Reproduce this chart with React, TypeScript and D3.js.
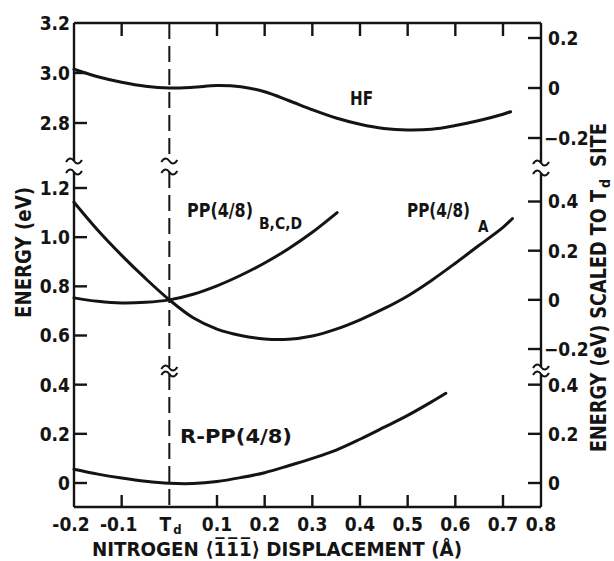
import React from 'react';
import * as d3 from 'd3';

// x axis (nitrogen displacement, Angstrom)
const xTicks = [-0.2, -0.1, 0, 0.1, 0.2, 0.3, 0.4, 0.5, 0.6, 0.7, 0.8];
const xTickLabels = ['-0.2', '-0.1', 'T', '0.1', '0.2', '0.3', '0.4', '0.5', '0.6', '0.7', '0.8'];

// left axis, upper (HF) and lower (PP) segments
const leftTopTicks = [3.2, 3.0, 2.8];
const leftTopLabels = ['3.2', '3.0', '2.8'];
const leftLowTicks = [1.2, 1.0, 0.8, 0.6, 0.4, 0.2, 0];
const leftLowLabels = ['1.2', '1.0', '0.8', '0.6', '0.4', '0.2', '0'];

// right axis: energies relative to the Td site, three segments
const rightTopTicks = [0.2, 0, -0.2];
const rightMidTicks = [0.4, 0.2, 0, -0.2];
const rightLowTicks = [0.4, 0.2, 0];
const hfAtTd = 2.94;
const ppAtTd = 0.745;
const rppAtTd = 0;

// curves
const hfX = [-0.2, -0.15, -0.1, -0.05, 0, 0.05, 0.1, 0.15, 0.2, 0.25, 0.3, 0.35, 0.4, 0.45, 0.5, 0.55, 0.6, 0.65, 0.7, 0.72];
const hfE = [3.015, 2.985, 2.963, 2.947, 2.94, 2.943, 2.95, 2.945, 2.925, 2.89, 2.853, 2.82, 2.795, 2.778, 2.772, 2.775, 2.79, 2.81, 2.835, 2.845];

const ppaX = [-0.2, -0.15, -0.1, -0.05, 0, 0.05, 0.1, 0.15, 0.2, 0.25, 0.3, 0.35, 0.4, 0.45, 0.5, 0.55, 0.6, 0.65, 0.7, 0.725];
const ppaE = [1.142, 1.028, 0.926, 0.832, 0.745, 0.672, 0.626, 0.6, 0.586, 0.585, 0.598, 0.626, 0.664, 0.709, 0.761, 0.824, 0.894, 0.967, 1.04, 1.076];

const ppbX = [-0.2, -0.15, -0.1, -0.05, 0, 0.05, 0.1, 0.15, 0.2, 0.25, 0.3, 0.352];
const ppbE = [0.753, 0.739, 0.732, 0.735, 0.745, 0.768, 0.802, 0.845, 0.895, 0.953, 1.02, 1.1];

const rppX = [-0.2, -0.15, -0.1, -0.05, 0, 0.05, 0.1, 0.15, 0.2, 0.25, 0.3, 0.35, 0.4, 0.45, 0.5, 0.55, 0.58];
const rppE = [0.056, 0.036, 0.02, 0.007, -0.001, -0.002, 0.006, 0.022, 0.042, 0.07, 0.1, 0.134, 0.178, 0.226, 0.275, 0.33, 0.365];

const W = 614;
const H = 561;
const top = 23;
const bottom = 507;
const ink = '#141414';
const font = '"DejaVu Sans Condensed", "DejaVu Sans", sans-serif';

const x = d3.scaleLinear().domain([-0.2, 0.7, 0.8]).range([74, 503, 541]);
const yHigh = d3.scaleLinear().domain([2.8, 3.2]).range([123, 23]);
const yLow = d3.scaleLinear().domain([0, 1.2]).range([483, 188]);

const left = x(-0.2);
const right = x(0.8);

const fmt = (v: number) => (v === 0 ? '0' : d3.format('.1f')(v));

function wave(cx: number, cy: number) {
  return `M${cx - 8},${cy + 1} C${cx - 5},${cy - 4} ${cx - 2},${cy - 3} ${cx},${cy} S${cx + 5},${cy + 4} ${cx + 8},${cy - 1}`;
}

function curve(xs: number[], es: number[], y: d3.ScaleLinear<number, number>) {
  const line = d3
    .line<number>()
    .x((_, i) => x(xs[i]))
    .y((e) => y(e))
    .curve(d3.curveCatmullRom.alpha(0.5));
  return line(es) || '';
}

export default function App() {
  const td = x(0);
  const brk1a = 161;
  const brk1b = 172;
  const brk2a = 367;
  const brk2b = 374;

  return (
    <svg
      width={W}
      height={H}
      style={{ position: 'absolute', left: 0, top: 0, background: '#fff' }}
      fontFamily={font}
    >
      <rect width={W} height={H} fill="#fff" />
      <g stroke={ink} fill="none" strokeWidth={2.4} strokeLinecap="butt">
        {/* frame */}
        <line x1={left} x2={right} y1={top} y2={top} />
        <line x1={left} x2={right} y1={bottom} y2={bottom} />
        <line x1={left} x2={left} y1={top} y2={brk1a} />
        <line x1={left} x2={left} y1={brk1b} y2={bottom} />
        <line x1={right} x2={right} y1={top} y2={brk1a + 2} />
        <line x1={right} x2={right} y1={brk1b + 1} y2={brk2a} />
        <line x1={right} x2={right} y1={brk2b} y2={bottom} />
        {/* break marks */}
        <path d={wave(left, brk1a)} strokeWidth={2} />
        <path d={wave(left, brk1b)} strokeWidth={2} />
        <path d={wave(right, brk1a + 2)} strokeWidth={2} />
        <path d={wave(right, brk1b + 1)} strokeWidth={2} />
        <path d={wave(right, brk2a)} strokeWidth={2} />
        <path d={wave(right, brk2b)} strokeWidth={2} />
        <path d={wave(td, brk1a)} strokeWidth={2} />
        <path d={wave(td, brk1b)} strokeWidth={2} />
        <path d={wave(td, brk2a + 1)} strokeWidth={2} />
        <path d={wave(td, brk2b)} strokeWidth={2} />

        {/* Td dashed line */}
        <line x1={td} x2={td} y1={top} y2={brk1a} strokeDasharray="16 7" strokeWidth={2} />
        <line x1={td} x2={td} y1={brk1b} y2={brk2a} strokeDasharray="16 7" strokeWidth={2} />
        <line x1={td} x2={td} y1={brk2b} y2={bottom} strokeDasharray="16 7" strokeWidth={2} />

        {/* x ticks top and bottom */}
        {xTicks.filter((v) => v > -0.2 && v < 0.8 && v !== 0).map((v) => (
          <g key={`xt${v}`}>
            <line x1={x(v)} x2={x(v)} y1={bottom} y2={bottom - 12} />
            <line x1={x(v)} x2={x(v)} y1={top} y2={top + 13} />
          </g>
        ))}

        {/* left ticks */}
        {leftTopTicks.filter((v) => v < 3.2).map((v) => (
          <line key={`lt${v}`} x1={left} x2={left + 13} y1={yHigh(v)} y2={yHigh(v)} />
        ))}
        {leftLowTicks.map((v) => (
          <line key={`ll${v}`} x1={left} x2={left + 13} y1={yLow(v)} y2={yLow(v)} />
        ))}

        {/* right ticks */}
        {rightTopTicks.map((v) => (
          <line key={`rt${v}`} x1={right - 13} x2={right} y1={yHigh(v + hfAtTd)} y2={yHigh(v + hfAtTd)} />
        ))}
        {rightMidTicks.map((v) => (
          <line key={`rm${v}`} x1={right - 13} x2={right} y1={yLow(v + ppAtTd)} y2={yLow(v + ppAtTd)} />
        ))}
        {rightLowTicks.map((v) => (
          <line key={`rl${v}`} x1={right - 13} x2={right} y1={yLow(v + rppAtTd)} y2={yLow(v + rppAtTd)} />
        ))}
      </g>

      {/* curves */}
      <g stroke={ink} fill="none" strokeWidth={3} strokeLinejoin="round" strokeLinecap="round">
        <path d={curve(hfX, hfE, yHigh)} />
        <path d={curve(ppaX, ppaE, yLow)} />
        <path d={curve(ppbX, ppbE, yLow)} />
        <path d={curve(rppX, rppE, yLow)} />
      </g>

      <g fill={ink} fontWeight="bold" fontSize={19}>
        {/* left tick labels */}
        {leftTopTicks.map((v, i) => (
          <text key={`ltl${v}`} x={left - 4} y={yHigh(v)} dy="0.36em" textAnchor="end">
            {leftTopLabels[i]}
          </text>
        ))}
        {leftLowTicks.map((v, i) => (
          <text key={`lll${v}`} x={left - 4} y={yLow(v)} dy="0.36em" textAnchor="end">
            {leftLowLabels[i]}
          </text>
        ))}

        {/* right tick labels */}
        {rightTopTicks.map((v) => (
          <text key={`rtl${v}`} x={right + (v < 0 ? 3 : 7)} y={yHigh(v + hfAtTd)} dy="0.36em">
            {fmt(v)}
          </text>
        ))}
        {rightMidTicks.map((v) => (
          <text key={`rml${v}`} x={right + (v < 0 ? 3 : 7)} y={yLow(v + ppAtTd)} dy="0.36em">
            {fmt(v)}
          </text>
        ))}
        {rightLowTicks.map((v) => (
          <text key={`rll${v}`} x={right + 7} y={yLow(v + rppAtTd)} dy="0.36em">
            {fmt(v)}
          </text>
        ))}

        {/* x tick labels */}
        {xTicks.map((v, i) =>
          v === 0 ? (
            <g key={`xl${v}`}>
              <text x={x(v) - 4} y={531} textAnchor="middle">{xTickLabels[i]}</text>
              <text x={x(v) + 8} y={534} textAnchor="middle" fontSize={13}>d</text>
            </g>
          ) : (
            <text key={`xl${v}`} x={x(v) - (v < 0 ? 3 : 0)} y={531} textAnchor="middle">
              {xTickLabels[i]}
            </text>
          )
        )}

        {/* axis titles */}
        <text x={92} y={556} fontSize={20} textLength={370} lengthAdjust="spacingAndGlyphs">
          {'NITROGEN \u27e81\u03051\u03051\u0305\u27e9 DISPLACEMENT (Å)'}
        </text>
        <text
          transform={`translate(31,318) rotate(-90)`}
          fontSize={22}
          textLength={131}
          lengthAdjust="spacingAndGlyphs"
        >
          ENERGY (eV)
        </text>
        <text
          transform={`translate(606,452) rotate(-90)`}
          fontSize={21}
          textLength={262}
          lengthAdjust="spacingAndGlyphs"
        >
          ENERGY (eV) SCALED TO T
        </text>
        <text transform={`translate(610,188) rotate(-90)`} fontSize={14}>
          d
        </text>
        <text
          transform={`translate(606,167) rotate(-90)`}
          fontSize={21}
          textLength={44}
          lengthAdjust="spacingAndGlyphs"
        >
          SITE
        </text>

        {/* curve labels */}
        <text x={350} y={105} fontSize={20} textLength={23} lengthAdjust="spacingAndGlyphs">HF</text>
        <text x={187} y={217} fontSize={20} textLength={66} lengthAdjust="spacingAndGlyphs">PP(4/8)</text>
        <text x={259} y={229} fontSize={16} textLength={43} lengthAdjust="spacingAndGlyphs">B,C,D</text>
        <text x={407} y={217} fontSize={20} textLength={63} lengthAdjust="spacingAndGlyphs">PP(4/8)</text>
        <text x={478} y={232} fontSize={15}>A</text>
        <text x={180} y={443} fontSize={20} textLength={112} lengthAdjust="spacingAndGlyphs">R-PP(4/8)</text>
      </g>
    </svg>
  );
}
